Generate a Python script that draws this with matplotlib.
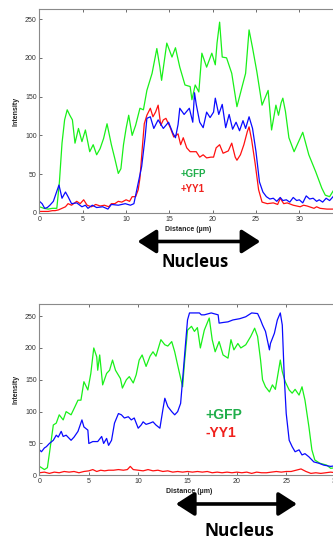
import matplotlib
matplotlib.use("Agg")
import matplotlib.pyplot as plt
from matplotlib.patches import FancyArrowPatch

# ---------------- data: top panel (+GFP, +YY1) ----------------
top_green_x = [0.0, 0.5, 1.0, 1.5, 2.0, 2.3, 2.6, 2.9, 3.2, 3.5, 3.8, 4.1, 4.5, 4.9, 5.3, 5.8, 6.2, 6.6, 7.0, 7.4,
               7.8, 8.3, 8.7, 9.1, 9.4, 9.7, 10.0, 10.3, 10.7, 11.1, 11.6, 12.0, 12.4, 13.0, 13.55, 13.9, 14.1,
               14.7, 15.3, 15.7, 16.2, 16.8, 17.4, 17.6, 17.98, 18.4, 18.75, 19.3, 19.9, 20.3, 20.5, 20.8, 21.1,
               21.6, 22.2, 22.8, 23.4, 23.8, 24.2, 24.6, 25.1, 25.7, 26.4, 26.8, 27.3, 27.6, 27.9, 28.1, 28.4,
               28.8, 29.4, 30.4, 31.1, 31.9, 32.6, 33.0, 33.5, 34.0]
top_green_y = [8, 6, 5, 6, 6, 40, 90, 120, 133, 126, 120, 90, 109, 92, 107, 79, 88, 75, 83, 96,
               115, 88, 70, 51, 57, 88, 109, 126, 100, 113, 135, 133, 158, 180, 212, 188, 171,
               219, 201, 213, 188, 165, 163, 146, 165, 156, 206, 188, 206, 191, 219, 246, 201,
               200, 180, 137, 163, 180, 236, 213, 182, 139, 158, 107, 139, 126, 142, 148, 131,
               97, 79, 104, 75, 53, 32, 23, 21, 30]

top_blue_x = [0.0, 0.3, 0.6, 0.9, 1.2, 1.6, 2.0, 2.25, 2.6, 3.0, 3.3, 3.7, 4.3, 4.9, 5.3, 5.6, 6.1, 6.6, 7.3, 7.9,
              8.3, 9.1, 9.9, 10.5, 10.9, 11.2, 11.8, 12.2, 12.4, 12.8, 13.2, 13.7, 14.3, 14.9, 15.4, 15.7, 16.0,
              16.2, 16.7, 17.3, 17.7, 17.9, 18.1, 18.5, 18.9, 19.3, 19.7, 20.1, 20.3, 20.7, 21.1, 21.5, 21.9,
              22.3, 22.7, 23.1, 23.5, 23.8, 24.2, 24.6, 25.0, 25.4, 25.8, 26.2, 26.6, 27.0, 27.4, 27.8, 28.1,
              28.5, 28.9, 29.3, 29.7, 30.0, 30.4, 30.8, 31.2, 31.6, 32.0, 32.3, 32.7, 33.1, 33.5, 33.9]
top_blue_y = [15, 12, 6, 7, 10, 15, 28, 36, 19, 27, 21, 12, 13, 8, 10, 6, 10, 7, 8, 5,
              11, 10, 12, 10, 12, 28, 60, 98, 122, 124, 109, 120, 109, 117, 103, 97, 114,
              135, 127, 135, 117, 155, 140, 117, 110, 130, 123, 130, 148, 127, 140, 110, 127,
              108, 117, 106, 119, 109, 124, 109, 79, 40, 27, 21, 18, 19, 15, 20, 16,
              17, 14, 20, 16, 17, 13, 22, 18, 19, 15, 17, 14, 19, 16, 21]

top_red_x = [0.0, 0.5, 1.0, 1.5, 1.8, 2.2, 2.6, 3.0, 3.3, 3.7, 4.3, 4.7, 5.1, 5.5, 6.0, 6.5, 7.0, 7.5, 8.0, 8.3,
             8.7, 9.1, 9.5, 10.0, 10.4, 10.7, 11.1, 11.4, 11.6, 11.9, 12.1, 12.4, 12.8, 13.1, 13.4, 13.7, 14.0,
             14.3, 14.6, 15.1, 15.5, 16.0, 16.3, 16.6, 17.0, 17.4, 17.6, 18.1, 18.5, 18.9, 19.3, 19.8, 20.1,
             20.4, 20.8, 21.2, 21.8, 22.2, 22.6, 22.8, 23.2, 23.6, 24.0, 24.2, 24.5, 24.9, 25.3, 25.7, 26.3,
             27.0, 27.5, 27.8, 28.2, 28.6, 29.3, 30.1, 30.5, 30.9, 31.7, 32.0, 32.4, 33.2, 34.0]
top_red_y = [2, 2, 2, 3, 3, 4, 6, 8, 12, 10, 15, 12, 17, 10, 8, 11, 9, 10, 8, 12,
             12, 15, 14, 17, 15, 21, 21, 30, 45, 88, 115, 126, 135, 124, 130, 139, 113,
             120, 122, 110, 98, 102, 88, 97, 84, 79, 79, 79, 72, 75, 71, 72, 72,
             84, 88, 77, 80, 90, 72, 68, 75, 88, 105, 111, 94, 64, 30, 14, 12,
             13, 11, 19, 12, 13, 10, 8, 10, 9, 6, 8, 6, 5, 5]

# ---------------- data: bottom panel (+GFP, -YY1) ----------------
bot_green_x = [0.0, 0.3, 0.5, 0.8, 1.1, 1.4, 1.7, 2.0, 2.4, 2.7, 3.2, 3.6, 3.9, 4.2, 4.5, 4.9, 5.2, 5.5, 5.8, 5.9,
               6.1, 6.4, 6.8, 7.1, 7.4, 7.7, 8.2, 8.4, 8.8, 9.1, 9.5, 9.8, 10.1, 10.4, 10.8, 11.2, 11.5, 11.8,
               12.3, 12.7, 13.0, 13.4, 13.7, 14.0, 14.5, 14.7, 15.0, 15.4, 15.7, 16.0, 16.3, 16.7, 17.2, 17.5,
               17.8, 18.2, 18.6, 19.1, 19.4, 19.7, 20.1, 20.4, 20.9, 21.4, 21.8, 22.1, 22.4, 22.6, 22.9, 23.3,
               23.6, 23.9, 24.4, 24.6, 24.9, 25.3, 25.6, 25.9, 26.3, 26.6, 26.9, 27.3, 27.6, 27.9, 28.4, 29.1,
               29.5, 30.0]
bot_green_y = [14, 11, 9, 12, 45, 79, 82, 95, 87, 100, 95, 108, 118, 118, 147, 134, 160, 200, 186, 165,
               189, 142, 160, 165, 181, 165, 152, 137, 150, 155, 145, 158, 181, 189, 171, 187, 194, 187,
               213, 205, 203, 210, 194, 173, 139, 178, 228, 234, 226, 232, 200, 228, 247, 213,
               194, 210, 189, 184, 213, 197, 207, 200, 205, 218, 231, 218, 181, 150, 139, 131,
               142, 135, 181, 163, 147, 134, 129, 135, 126, 139, 118, 76, 40, 24, 19, 16,
               11, 12]

bot_blue_x = [0.0, 0.2, 0.5, 0.7, 1.0, 1.4, 1.7, 1.9, 2.2, 2.4, 2.7, 3.2, 3.5, 3.9, 4.3, 4.5, 4.9, 5.0, 5.4, 5.9,
              6.3, 6.5, 6.8, 7.0, 7.3, 7.6, 8.0, 8.3, 8.6, 9.0, 9.3, 9.6, 10.0, 10.3, 10.5, 10.8, 11.2, 11.5,
              11.8, 12.2, 12.5, 12.7, 13.0, 13.4, 13.7, 14.0, 14.3, 14.5, 14.8, 15.0, 15.2, 16.2, 16.4, 16.7,
              17.4, 18.1, 18.2, 18.6, 19.1, 19.6, 20.3, 20.9, 21.5, 22.1, 22.4, 22.6, 22.9, 23.3, 23.4, 23.8,
              24.1, 24.4, 24.6, 24.8, 25.0, 25.3, 25.6, 25.9, 26.3, 26.6, 26.9, 27.3, 27.8, 28.3, 28.8, 29.5,
              30.0]
bot_blue_y = [40, 37, 43, 45, 50, 55, 63, 60, 69, 61, 63, 55, 60, 69, 87, 76, 71, 50, 53, 53,
              61, 50, 58, 47, 55, 82, 97, 95, 90, 92, 87, 90, 74, 79, 84, 80, 82, 84,
              79, 74, 103, 121, 108, 100, 95, 100, 113, 150, 207, 244, 255, 255, 252, 252,
              255, 252, 239, 240, 241, 244, 246, 249, 255, 254, 244, 236, 226, 197, 207, 223,
              244, 255, 236, 155, 97, 55, 45, 37, 40, 32, 34, 29, 21, 19, 16, 14,
              15]

bot_red_x = [0.0, 0.5, 1.0, 1.5, 2.0, 2.5, 3.0, 3.5, 4.0, 4.5, 5.0, 5.4, 5.8, 6.2, 6.6, 7.0, 7.5, 8.0, 8.5, 8.9,
             9.2, 9.5, 10.0, 10.5, 11.0, 11.5, 12.0, 12.5, 13.0, 13.5, 14.0, 14.5, 15.0, 15.5, 16.0, 16.5, 17.0,
             17.5, 18.0, 18.5, 19.0, 19.5, 20.0, 20.5, 21.0, 21.5, 22.0, 22.5, 23.0, 23.5, 24.0, 24.5, 25.0,
             25.5, 26.0, 26.5, 27.0, 27.5, 28.0, 28.5, 29.0, 29.5, 30.0]
bot_red_y = [4, 5, 3, 5, 4, 6, 5, 6, 4, 6, 7, 9, 6, 8, 7, 8, 8, 9, 8, 9,
             14, 9, 8, 7, 9, 7, 8, 6, 7, 5, 6, 5, 6, 5, 6, 5, 6,
             4, 5, 4, 5, 4, 5, 4, 5, 3, 5, 4, 4, 5, 6, 5, 6,
             6, 8, 10, 6, 3, 4, 3, 4, 5, 4]

x_ticks_top = [0, 5, 10, 15, 20, 25, 30]
x_ticks_bot = [0, 5, 10, 15, 20, 25, 30]
y_ticks = [0, 50, 100, 150, 200, 250]

LINE_GREEN = "#19f019"
LINE_BLUE = "#0a0aff"
LINE_RED = "#ff1010"
TXT_GREEN = "#1fae4a"
TXT_RED = "#f0201c"

plt.rcParams["font.family"] = ["Liberation Sans", "DejaVu Sans"]

fig = plt.figure(figsize=(3.33, 5.40), dpi=100)


def style_axes(ax, xlim, ylim, xticks):
    ax.set_xlim(*xlim)
    ax.set_ylim(*ylim)
    ax.set_xticks(xticks)
    ax.set_yticks(y_ticks)
    ax.tick_params(direction="in", length=2.5, width=0.6, labelsize=5, pad=2,
                   top=True, right=True, colors="#555555", labelcolor="#333333")
    for sp in ax.spines.values():
        sp.set_color("#8a8a8a")
        sp.set_linewidth(0.8)
    ax.set_xlabel("Distance (µm)", fontsize=5, fontweight="bold", labelpad=2, color="#222222")
    ax.set_ylabel("Intensity", fontsize=5, fontweight="bold", labelpad=4, color="#222222")


# top panel
ax1 = fig.add_axes([0.1186, 0.6056, 0.892, 0.3778])
ax1.plot(top_green_x, top_green_y, color=LINE_GREEN, lw=0.9)
ax1.plot(top_red_x, top_red_y, color=LINE_RED, lw=0.9)
ax1.plot(top_blue_x, top_blue_y, color=LINE_BLUE, lw=0.9)
style_axes(ax1, (0, 34.3), (0, 263), x_ticks_top)
ax1.text(16.3, 50, "+GFP", color=TXT_GREEN, fontsize=7, fontweight="bold", va="center", ha="left")
ax1.text(16.3, 31, "+YY1", color=TXT_RED, fontsize=7, fontweight="bold", va="center", ha="left")

# bottom panel
ax2 = fig.add_axes([0.1186, 0.1198, 0.898, 0.3172])
ax2.plot(bot_green_x, bot_green_y, color=LINE_GREEN, lw=0.9)
ax2.plot(bot_red_x, bot_red_y, color=LINE_RED, lw=0.9)
ax2.plot(bot_blue_x, bot_blue_y, color=LINE_BLUE, lw=0.9)
style_axes(ax2, (0, 30.3), (0, 269), x_ticks_bot)
ax2.text(16.8, 95, "+GFP", color=TXT_GREEN, fontsize=10, fontweight="bold", va="center", ha="left")
ax2.text(16.8, 66, "-YY1", color=TXT_RED, fontsize=10, fontweight="bold", va="center", ha="left")

# nucleus arrows and labels
for (x0, x1, y) in [(0.405, 0.790, 0.5528), (0.52, 0.90, 0.0667)]:
    arr = FancyArrowPatch((x0, y), (x1, y), transform=fig.transFigure,
                          arrowstyle="<|-|>,head_length=7,head_width=4.5",
                          color="black", lw=2.6, mutation_scale=1.6)
    fig.add_artist(arr)

fig.text(0.586, 0.515, "Nucleus", fontsize=12, fontweight="bold", ha="center", va="center",
         family=["Open Sans", "DejaVu Sans"])
fig.text(0.718, 0.017, "Nucleus", fontsize=12.5, fontweight="bold", ha="center", va="center",
         family=["Open Sans", "DejaVu Sans"])

fig.savefig("out.png", dpi=100)
